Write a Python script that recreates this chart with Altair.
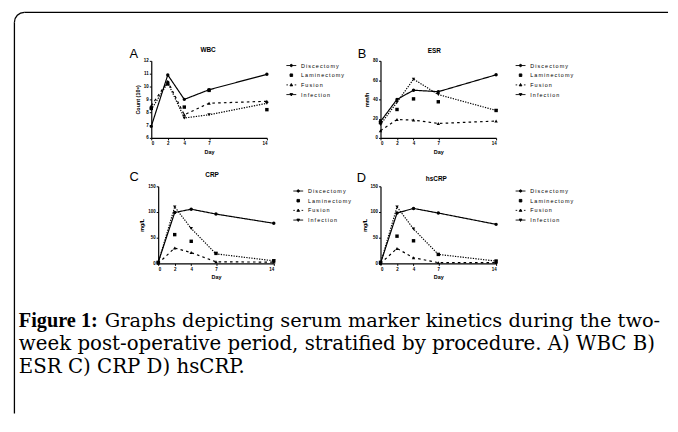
import altair as alt
import pandas as pd

# ---------------- data ----------------
days = [0, 2, 4, 7, 14]
series = ["Discectomy", "Laminectomy", "Fusion", "Infection"]

wbc_discectomy = [6.9, 10.9, 9.0, 9.75, 10.95]
wbc_laminectomy = [8.3, 10.2, 8.4, 9.7, 8.2]
wbc_fusion = [8.5, 10.4, 7.8, 8.7, 8.85]
wbc_infection = [8.2, 10.3, 7.55, 7.8, 8.7]

esr_discectomy = [17, 40, 49.5, 48, 65.5]
esr_laminectomy = [16, 29.5, 40.5, 37.5, 28.5]
esr_fusion = [7.5, 19, 18.5, 15, 17.5]
esr_infection = [14, 37, 61, 45, 28.5]

crp_discectomy = [2, 99, 105.5, 96, 78]
crp_laminectomy = [2, 56, 43, 19.5, 5]
crp_fusion = [0, 30, 21, 3, 2.5]
crp_infection = [1, 110, 68, 18.5, 5]

hscrp_discectomy = [0, 98, 107, 98, 76]
hscrp_laminectomy = [2, 53, 44, 17.5, 4]
hscrp_fusion = [0, 29, 11, 1.5, 1.5]
hscrp_infection = [0, 110, 67, 17.5, 4.5]

wbc_ticks = [6, 7, 8, 9, 10, 11, 12]
esr_ticks = [0, 20, 40, 60, 80]
crp_ticks = [0, 50, 100, 150]

caption_bold = "Figure 1:"
caption_line1 = "Graphs depicting serum marker kinetics during the two-"
caption_line2 = "week post-operative period, stratified by procedure. A) WBC B)"
caption_line3 = "ESR C) CRP D) hsCRP."

# ---------------- helpers ----------------
SANS = "Liberation Sans"
SERIF = "DejaVu Serif"
PW, PH = 117, 78


def frame(vals):
    rows = []
    for name, v in zip(series, vals):
        for d, y in zip(days, v):
            rows.append({"day": d, "value": y, "series": name})
    return pd.DataFrame(rows)


one = pd.DataFrame({"k": [0]})

legend_paths = [
    "M-2.5,0L2.5,0M-0.6,0A0.6,0.6,0,1,1,0.6,0A0.6,0.6,0,1,1,-0.6,0Z",
    "M-0.65,-0.65L0.65,-0.65L0.65,0.65L-0.65,0.65Z",
    "M-2.5,0L-1.7,0M1.7,0L2.5,0M0,-0.7L0.7,0.5L-0.7,0.5Z",
    "M-2.5,0L2.5,0M-0.7,-0.5L0.7,-0.5L0,0.7Z",
]


def panel(vals, title, letter, ytitle, ydomain, yticks, shift=0, ldx=-22, ldy=-3,
          tdx=0, tdy=-11, extra=()):
    df = frame(vals)
    W = PW + shift
    x = alt.X("day:Q", scale=alt.Scale(domain=[0, 14], nice=False, zero=False,
                                        range=[shift, W]),
              axis=alt.Axis(values=days, title="Day", format="d"))
    y = alt.Y("value:Q", scale=alt.Scale(domain=ydomain, nice=False, zero=False),
              axis=alt.Axis(values=yticks, title=ytitle, format="d", offset=-shift))
    base = alt.Chart(df)
    lines = base.transform_filter("datum.series != 'Laminectomy'").mark_line(
        color="black", strokeWidth=1.2).encode(
        x=x, y=y,
        strokeDash=alt.StrokeDash("series:N", scale=alt.Scale(
            domain=["Discectomy", "Fusion", "Infection"],
            range=[[1, 0], [2.6, 3.2], [1.3, 1.3]]), legend=None))
    points = base.mark_point(filled=True, color="black", opacity=1, size=12).encode(
        x=x, y=y,
        shape=alt.Shape("series:N", scale=alt.Scale(
            domain=series, range=["circle", "square", "triangle-up", "triangle-down"]),
            legend=None))
    leg = base.transform_filter("datum.day < 0").mark_point(
        filled=False, fill="black", stroke="black", strokeWidth=0.9, opacity=1).encode(
        x=x, y=y,
        shape=alt.Shape("series:N", scale=alt.Scale(domain=series, range=legend_paths),
                        legend=alt.Legend(
                            title=None, orient="none", legendX=W + 22, legendY=2,
                            padding=0, symbolSize=16, symbolStrokeWidth=0.9,
                            symbolOpacity=1, labelFontSize=5.5, labelFont=SANS,
                            labelColor="black", labelOffset=7, rowPadding=1.8,
                            labelExpr="replace(datum.label, regexp('(.)(?!$)', 'g'), '$1\u2009')")))
    let = alt.Chart(one).mark_text(
        text=letter, font=SANS, fontSize=13, align="left", baseline="alphabetic",
        color="black").encode(x=alt.value(ldx), y=alt.value(ldy))
    ttl = alt.Chart(one).mark_text(
        text=title, font=SANS, fontSize=6.5, fontWeight="bold", align="center",
        baseline="middle", color="black").encode(
        x=alt.value(shift + PW / 2 + tdx), y=alt.value(tdy))
    return alt.layer(lines, points, leg, let, ttl, *extra).resolve_scale(
        shape="independent").properties(width=W, height=PH)


# ---------------- decorations (border + caption) ----------------
ox, oy = 153, 59  # page position of panel A's plot origin
BX, BY, R = 14.5, 10, 10  # border corner (page)
RIGHT, BOTTOM = 676, 416
top_line = alt.Chart(one).mark_rule(color="black", strokeWidth=1.3).encode(
    x=alt.value(BX + R - ox), x2=alt.value(RIGHT - ox), y=alt.value(BY - oy))
left_line = alt.Chart(one).mark_rule(color="black", strokeWidth=1.3).encode(
    x=alt.value(BX - ox), y=alt.value(BY + R - oy), y2=alt.value(BOTTOM - oy))
corner = alt.Chart(one).mark_arc(
    radius=R + 0.65, radius2=R - 0.65, theta=4.7124, theta2=6.2832, color="black").encode(
    x=alt.value(BX + R - ox), y=alt.value(BY + R - oy))


def cap(text, px, py, size, bold=False):
    return alt.Chart(one).mark_text(
        text=text, font="Liberation Serif" if bold else SERIF,
        fontSize=size, fontWeight="bold" if bold else "normal",
        align="left", baseline="alphabetic", color="black").encode(
        x=alt.value(px - ox), y=alt.value(py - oy))


caps = [
    cap(caption_bold, 19, 328, 20.5, bold=True),
    cap(caption_line1, 106, 328, 19.6),
    cap(caption_line2, 19, 352, 20.0),
    cap(caption_line3, 19, 375, 20.0),
]

A = panel([wbc_discectomy, wbc_laminectomy, wbc_fusion, wbc_infection],
          "WBC", "A", "Count (10⁹)", [6, 12], wbc_ticks, ldx=-22, ldy=-3, tdx=-1,
          extra=[top_line, left_line, corner] + caps)
B = panel([esr_discectomy, esr_laminectomy, esr_fusion, esr_infection],
          "ESR", "B", "mm/h", [0, 80], esr_ticks, ldx=-23, ldy=-3, tdx=-4, tdy=-10)
C = panel([crp_discectomy, crp_laminectomy, crp_fusion, crp_infection],
          "CRP", "C", "mg/L", [0, 150], crp_ticks, shift=7, ldx=-22, ldy=-5,
          tdx=-4, tdy=-11)
D = panel([hscrp_discectomy, hscrp_laminectomy, hscrp_fusion, hscrp_infection],
          "hsCRP", "D", "mg/L", [0, 150], crp_ticks, ldx=-24, ldy=-4, tdx=-2, tdy=-7)

chart = alt.concat(
    A, B, C, D, columns=2, spacing={"row": 49, "column": 108}, bounds="flush"
).resolve_scale(shape="independent", strokeDash="independent").resolve_legend(
    shape="independent"
).properties(
    padding={"left": 5, "top": 0, "right": 0, "bottom": 0}
).configure_view(stroke="transparent").configure_axis(
    labelFont=SANS, labelFontSize=4.5, labelFontWeight="bold", labelColor="black",
    titleFont=SANS, titleFontSize=5.5, titleFontWeight="bold", titleColor="black",
    domainColor="black", domainWidth=1.2, tickColor="black", tickWidth=1,
    tickSize=2, labelPadding=1, grid=False
).configure_axisX(titlePadding=4).configure_axisY(titlePadding=3)

chart.save("out.html", embed_options={"renderer": "svg", "actions": False})
